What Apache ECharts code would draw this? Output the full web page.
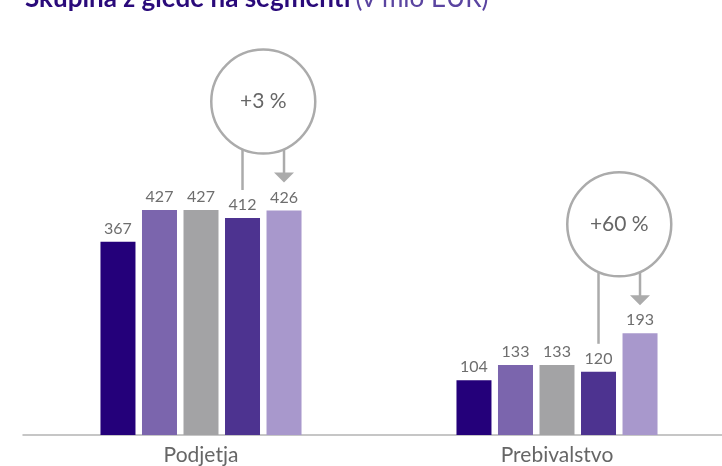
<!DOCTYPE html>
<html><head><meta charset="utf-8">
<script src="https://cdn.jsdelivr.net/npm/echarts@6/dist/echarts.min.js"></script>
<style>html,body{margin:0;padding:0;background:#fff;overflow:hidden;width:722px;height:466px}#c{width:735px;height:466px}</style>
</head><body><div id="c"></div>
<script>
const categories = ['Podjetja', 'Prebivalstvo'];
const s1 = [367, 104];
const s2 = [427, 133];
const s3 = [427, 133];
const s4 = [412, 120];
const s5 = [426, 193];
const changes = ['+3 %', '+60 %'];
const colors = ['#24007a', '#7b65ad', '#a3a3a5', '#4d3390', '#a898cc'];
const titleBold = 'Skupina z glede na segmenti';
const titleUnit = '(v mio EUR)';

const FONT = 'Lato, "Noto Sans", sans-serif';
const chart = echarts.init(document.getElementById('c'), null, {renderer: 'canvas'});
const seriesData = [s1, s2, s3, s4, s5];
const option = {
  animation: false,
  title: {
    left: 20, top: -19,
    text: '{b|' + titleBold + '} {n|' + titleUnit + '}',
    textStyle: {
      rich: {
        b: {fontFamily: FONT, fontWeight: 'bold', fontSize: 26, color: '#2a0a7a'},
        n: {fontFamily: FONT, fontWeight: 'normal', fontSize: 26, color: '#5a44a0'}
      }
    }
  },
  grid: {left: 23, right: 0, top: 13.6, bottom: 30, containLabel: false},
  xAxis: {
    type: 'category', data: categories,
    axisLine: {lineStyle: {color: '#b4b4b4', width: 1.5}},
    axisTick: {show: false},
    axisLabel: {margin: 10, fontFamily: FONT, fontSize: 21, color: '#666666'}
  },
  yAxis: {type: 'value', min: 0, max: 800, show: false, splitLine: {show: false}},
  series: seriesData.map((d, i) => ({
    type: 'bar', data: d, barWidth: 35, barGap: '18.6%',
    itemStyle: {color: colors[i]},
    label: {show: true, position: 'top', distance: 5, fontFamily: FONT, fontSize: 16, color: '#6e6e6e'}
  }))
};
chart.setOption(option);

function barLayout(si, idx) {
  const data = chart.getModel().getSeriesByIndex(si).getData();
  return data.getItemLayout(idx);
}
const graphics = [];
const R = 52, gray = '#ababab';
categories.forEach((c, idx) => {
  const l4 = barLayout(3, idx), l5 = barLayout(4, idx);
  const x4 = l4.x + l4.width / 2, x5 = l5.x + l5.width / 2;
  const top4 = Math.min(l4.y, l4.y + l4.height), top5 = Math.min(l5.y, l5.y + l5.height);
  const cx = (x4 + x5) / 2, cy = top5 - 109;
  const yAt = x => cy + Math.sqrt(R * R - (x - cx) * (x - cx));
  graphics.push({type: 'circle', shape: {cx, cy, r: R}, style: {fill: '#fff', stroke: gray, lineWidth: 2.5}});
  graphics.push({type: 'text', x: cx, y: cy, style: {text: changes[idx], fontFamily: FONT, fontSize: 21, fill: '#666', align: 'center', verticalAlign: 'middle'}});
  graphics.push({type: 'line', shape: {x1: x4, y1: yAt(x4), x2: x4, y2: top4 - 28}, style: {stroke: gray, lineWidth: 2.5}});
  const tip = top5 - 28;
  graphics.push({type: 'line', shape: {x1: x5, y1: yAt(x5), x2: x5, y2: tip - 9}, style: {stroke: gray, lineWidth: 2.5}});
  graphics.push({type: 'polygon', shape: {points: [[x5 - 10, tip - 10], [x5 + 10, tip - 10], [x5, tip]]}, style: {fill: gray}});
});
chart.setOption({graphic: graphics});
</script></body></html>
